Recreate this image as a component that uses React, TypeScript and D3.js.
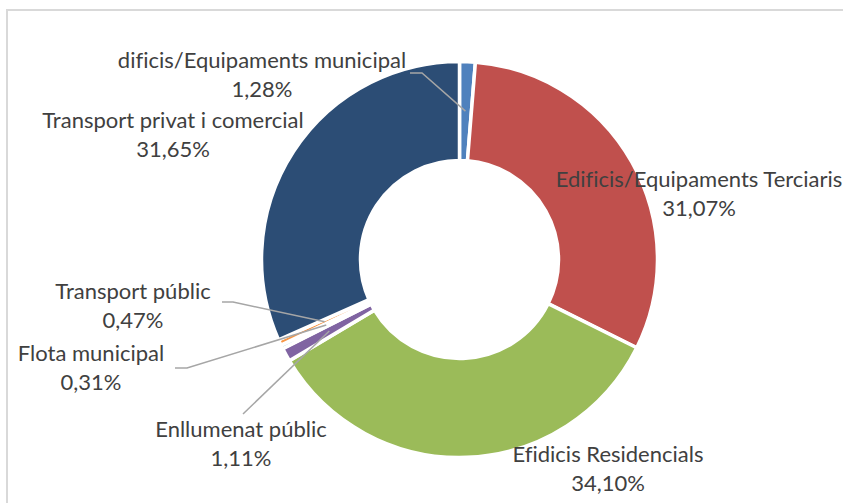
import React from "react";
import * as d3 from "d3";

const categories = [
  "Edificis/Equipaments municipal",
  "Edificis/Equipaments Terciaris",
  "Efidicis Residencials",
  "Enllumenat públic",
  "Flota municipal",
  "Transport públic",
  "Transport privat i comercial",
];
const labelLines = [
  "dificis/Equipaments municipal",
  "Edificis/Equipaments Terciaris",
  "Efidicis Residencials",
  "Enllumenat públic",
  "Flota municipal",
  "Transport públic",
  "Transport privat i comercial",
];
const values = [1.28, 31.07, 34.1, 1.11, 0.31, 0.47, 31.65];
const percentLabels = ["1,28%", "31,07%", "34,10%", "1,11%", "0,31%", "0,47%", "31,65%"];
const colors = ["#4f81bd", "#c0504d", "#9bbb59", "#8064a2", "#4bacc6", "#f79646", "#2c4d75"];

// label layout: centre x, first baseline, leader start (null = no leader)
const labelPos: { x: number; y: number; leader: number[][] | null }[] = [
  { x: 262, y: 68, leader: [[410, 73], [422, 73]] },
  { x: 699, y: 187, leader: null },
  { x: 608, y: 462, leader: null },
  { x: 241, y: 437, leader: [[243, 414]] },
  { x: 91, y: 361, leader: [[175, 368], [187, 368]] },
  { x: 133, y: 299, leader: [[222, 302], [233, 302]] },
  { x: 173, y: 128, leader: null },
];

const W = 843;
const H = 503;
const cx = 459.5;
const cy = 259.5;
const outerR = 198;
const innerR = 99;
const lineGap = 29;

export default function App() {
  const pie = d3
    .pie<number>()
    .sort(null)
    .value((d) => d)
    .startAngle(0)
    .endAngle(2 * Math.PI);
  const arcs = pie(values);
  const arc = d3.arc<d3.PieArcDatum<number>>().innerRadius(innerR).outerRadius(outerR);
  const line = d3.line();

  return (
    <svg
      width={W}
      height={H}
      style={{ position: "absolute", left: 0, top: 0, background: "#fff", fontVariantLigatures: "none" }}
      fontFamily="Lato, 'Open Sans', sans-serif"
    >
      <rect x={7} y={10} width={W + 20} height={H + 20} fill="#fff" stroke="#d9d9d9" strokeWidth={2} />
      <g transform={`translate(${cx},${cy})`}>
        {arcs.map((a, i) => (
          <path key={categories[i]} d={arc(a) || ""} fill={colors[i]} stroke="#fff" strokeWidth={3.5} />
        ))}
      </g>
      {arcs.map((a, i) => {
        const p = labelPos[i];
        if (!p.leader) return null;
        const c = arc.centroid(a);
        const pts = [...p.leader, [cx + c[0], cy + c[1]]] as [number, number][];
        return <path key={"l" + i} d={line(pts) || ""} fill="none" stroke="#a6a6a6" strokeWidth={1.5} />;
      })}
      {labelLines.map((t, i) => {
        const p = labelPos[i];
        return (
          <text key={"t" + i} textAnchor="middle" fill="#404040" fontSize={22}>
            <tspan x={p.x} y={p.y}>
              {t}
            </tspan>
            <tspan x={p.x} y={p.y + lineGap}>
              {percentLabels[i]}
            </tspan>
          </text>
        );
      })}
    </svg>
  );
}
